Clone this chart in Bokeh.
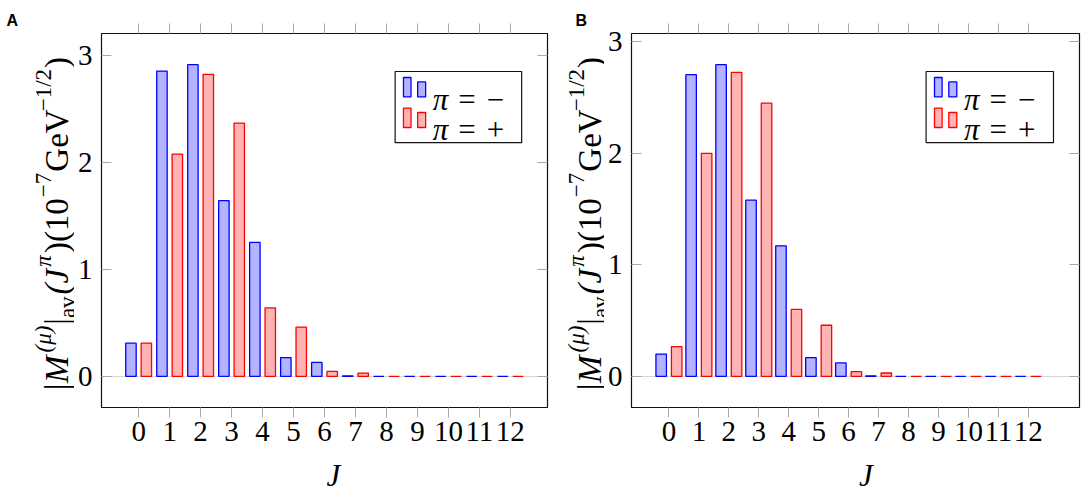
import math
from bokeh.plotting import figure
from bokeh.models import ColumnDataSource, Range1d, FixedTicker, LinearAxis, Label, Plot
from bokeh.layouts import row, column
from bokeh.embed import file_html
from bokeh.resources import INLINE
from bokeh.transform import dodge

# ---------------- data ----------------
J = list(range(13))
x_tick_labels = [str(j) for j in J]
y_ticks = [0, 1, 2, 3]
series_names = ["π = −", "π = +"]

a_minus = [0.31, 2.85, 2.91, 1.64, 1.25, 0.175, 0.13, 0.005, 0, 0, 0, 0, 0]
a_plus = [0.31, 2.075, 2.82, 2.365, 0.64, 0.46, 0.047, 0.03, 0, 0, 0, 0, 0]
b_minus = [0.20, 2.705, 2.795, 1.58, 1.17, 0.168, 0.12, 0.005, 0, 0, 0, 0, 0]
b_plus = [0.267, 2.0, 2.726, 2.45, 0.60, 0.458, 0.042, 0.03, 0, 0, 0, 0, 0]

# ---------------- style ----------------
BLUE_LINE, BLUE_FILL = "#0000ff", "#b3b3ff"
RED_LINE, RED_FILL = "#ff0000", "#ffb3b3"
TICK = "#a8a8a8"
GRID = "#d6d6d6"
SERIF = "Liberation Serif"
SANS = "Liberation Sans"

PAGE_H = 486
PLOT_H = 456      # height of the chart canvas; the rest holds the x title
BT = 33           # border top
FH = 374          # frame height
BB = PLOT_H - BT - FH

F_MAIN, F_SCRIPT = 33, 23
YL_CENTER = 224   # center of the y title, px from top
SUP_SHIFT = 13
SUB_SHIFT = 11

# (text, kind, style, em width, gap px after)
ylabel_runs = [
    ("|M", "main", "italic", 1.108, 3),
    ("(μ)", "sup", "italic", 1.166, 1),
    ("|", "main", "normal", 0.20, 0),
    ("av", "sub", "normal", 0.944, 2),
    ("(J", "main", "italic", 0.777, 2),
    ("π", "sup", "italic", 0.55, 1),
    (")(10", "main", "normal", 1.666, 1),
    ("−7", "sup", "normal", 1.064, 1),
    ("GeV", "main", "normal", 1.80, 1),
    ("−1/2", "sup", "normal", 1.842, 1),
    (")", "main", "normal", 0.333, 0),
]


def text_strip(width, height):
    """A bare plot whose data coordinates equal its pixels (origin top-left)."""
    return Plot(width=width, height=height,
                x_range=Range1d(0, width), y_range=Range1d(height, 0),
                min_border=0, min_border_left=0, min_border_right=0,
                min_border_top=0, min_border_bottom=0,
                toolbar_location=None, outline_line_color=None,
                background_fill_color=None, border_fill_color=None,
                output_backend="svg")


def lbl(text, x, y, **kw):
    base = dict(text_font=SERIF, text_color="black")
    base.update(kw)
    return Label(x=x, y=y, text=text, **base)


def ytitle_strip(letter, width, baseline_x, letter_x):
    s = text_strip(width, PAGE_H)
    sizes = {"main": F_MAIN, "sup": F_SCRIPT, "sub": F_SCRIPT}
    shifts = {"main": 0, "sup": SUP_SHIFT, "sub": -SUB_SHIFT}
    total = sum(em * sizes[k] + g for _, k, _, em, g in ylabel_runs)
    pos = YL_CENTER + total / 2
    for text, kind, style, em, gap in ylabel_runs:
        size = sizes[kind]
        s.add_layout(lbl(text, baseline_x - shifts[kind], pos,
                         angle=math.pi / 2, text_align="left", text_baseline="alphabetic",
                         text_font_style=style, text_font_size=f"{size}px"))
        pos -= em * size + gap
    s.add_layout(lbl(letter, letter_x, 11, text_font=SANS, text_font_style="bold",
                     text_font_size="16px", text_align="left", text_baseline="top"))
    return s


def xtitle_strip(width, center_x):
    s = text_strip(width, PAGE_H - PLOT_H)
    s.add_layout(lbl("J", center_x, 19, text_font_style="italic", text_font_size="31px",
                     text_align="center", text_baseline="alphabetic"))
    return s


def make_panel(minus, plus, xr, yr, width, bl, fw):
    br = width - bl - fw
    p = figure(width=width, height=PLOT_H,
               x_range=Range1d(*xr), y_range=Range1d(*yr),
               output_backend="svg", toolbar_location=None,
               min_border_left=bl, min_border_right=br,
               min_border_top=BT, min_border_bottom=BB,
               background_fill_color="white", border_fill_color="white")
    p.outline_line_color = "#111111"
    p.outline_line_width = 1.2

    fy = lambda dy: yr[1] - dy / FH * (yr[1] - yr[0])            # px from frame top
    fxr = lambda dx: xr[1] - dx / fw * (xr[1] - xr[0])           # px from frame right

    ppu = fw / (xr[1] - xr[0])
    off = 7.75 / ppu
    bw = 10.5 / ppu

    p.xgrid.visible = False
    p.ygrid.ticker = FixedTicker(ticks=[0])
    p.ygrid.grid_line_color = GRID
    p.ygrid.grid_line_width = 1.2

    src = ColumnDataSource(dict(J=J, minus=minus, plus=plus))
    p.vbar(x=dodge("J", -off), top="minus", bottom=0, width=bw, source=src,
           fill_color=BLUE_FILL, line_color=BLUE_LINE, line_width=1.3)
    p.vbar(x=dodge("J", off), top="plus", bottom=0, width=bw, source=src,
           fill_color=RED_FILL, line_color=RED_LINE, line_width=1.3)

    xa = p.xaxis[0]
    xa.ticker = FixedTicker(ticks=J)
    xa.major_label_overrides = {j: t for j, t in zip(J, x_tick_labels)}
    xa.major_label_text_font = SERIF
    xa.major_label_text_font_size = "29px"
    xa.major_label_text_color = "black"
    xa.major_label_standoff = 4
    xa.axis_line_color = None
    xa.major_tick_in = 0
    xa.major_tick_out = 10
    xa.major_tick_line_color = TICK
    xa.minor_tick_line_color = None

    ya = p.yaxis[0]
    ya.ticker = FixedTicker(ticks=y_ticks)
    ya.major_label_text_font = SERIF
    ya.major_label_text_font_size = "29px"
    ya.major_label_text_color = "black"
    ya.major_label_standoff = 9
    ya.axis_line_color = None
    ya.major_tick_in = 10
    ya.major_tick_out = 0
    ya.major_tick_line_color = TICK
    ya.minor_tick_line_color = None

    top = LinearAxis(ticker=FixedTicker(ticks=J), axis_line_color=None,
                     major_tick_in=0, major_tick_out=10, major_tick_line_color=TICK,
                     minor_tick_line_color=None, major_label_standoff=0,
                     major_label_overrides={j: "" for j in J},
                     major_label_text_font_size="1px", major_label_text_color=None)
    p.add_layout(top, "above")
    right = LinearAxis(ticker=FixedTicker(ticks=y_ticks), axis_line_color=None,
                       major_tick_in=10, major_tick_out=0, major_tick_line_color=TICK,
                       minor_tick_line_color=None, major_label_standoff=0,
                       major_label_overrides={t: "" for t in y_ticks},
                       major_label_text_font_size="1px", major_label_text_color=None)
    p.add_layout(right, "right")

    # legend drawn by hand: two small bars per entry, as pgfplots does
    box_l, box_r = 153.4, 26.0      # px from frame right
    box_t, box_b = 38.0, 109.2      # px from frame top
    p.quad(left=fxr(box_l), right=fxr(box_r), top=fy(box_t), bottom=fy(box_b),
           fill_color="white", line_color="#111111", line_width=1.2)
    entries = [(series_names[0], BLUE_FILL, BLUE_LINE), (series_names[1], RED_FILL, RED_LINE)]
    for i, (name, fc, lc) in enumerate(entries):
        rt = box_t + 6 + i * 30.6
        p.quad(left=fxr(box_l - 8.4), right=fxr(box_l - 16.0), top=fy(rt), bottom=fy(rt + 19.4),
               fill_color=fc, line_color=lc, line_width=1.3)
        p.quad(left=fxr(box_l - 22.7), right=fxr(box_l - 30.7), top=fy(rt + 4.4), bottom=fy(rt + 19.4),
               fill_color=fc, line_color=lc, line_width=1.3)
        p.add_layout(Label(x=fxr(box_l - 38.0), y=fy(rt + 21.5), text=name,
                           text_font=SERIF, text_font_style="italic", text_font_size="31px",
                           text_align="left", text_baseline="alphabetic", text_color="black"))
    return p


# panel A: page x 0..552 ; panel B: page x 552..1084
A_TITLE_W, A_BL, A_FW = 74, 24, 449
B_TITLE_W, B_BL, B_FW = 52, 27, 448
A_W = 552 - A_TITLE_W
B_W = 1084 - 552 - B_TITLE_W

pA = make_panel(a_minus, a_plus, (-1.2, 13.2), (-0.291, 3.201), A_W, A_BL, A_FW)
pB = make_panel(b_minus, b_plus, (-1.25, 13.71), (-0.2795, 3.0745), B_W, B_BL, B_FW)

yA = ytitle_strip("A", A_TITLE_W, A_TITLE_W + A_BL - 42, 6)
yB = ytitle_strip("B", B_TITLE_W, B_TITLE_W + B_BL - 42, 23)
xA = xtitle_strip(A_W, A_BL + A_FW / 2)
xB = xtitle_strip(B_W, B_BL + B_FW / 2)

layout = row(yA, column(pA, xA), yB, column(pB, xB))
open("out.html", "w").write(file_html(layout, INLINE))
